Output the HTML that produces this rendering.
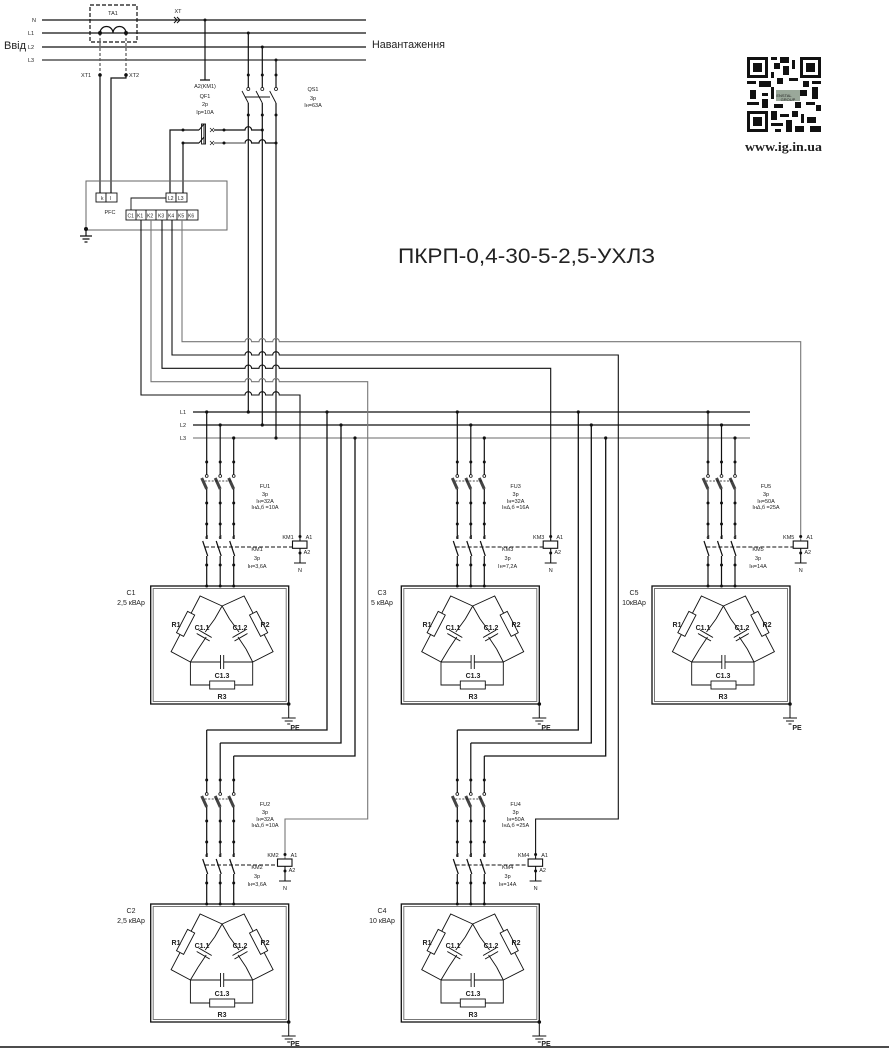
<!DOCTYPE html>
<html><head><meta charset="utf-8"><style>
html,body{margin:0;padding:0;background:#fff;}
svg{display:block;}
text{font-family:"Liberation Sans",sans-serif;fill:#222;}
.s{font-size:5.5px;}
.b{font-size:7px;font-weight:bold;}
</style></head><body>
<svg width="889" height="1049" viewBox="0 0 889 1049" xmlns="http://www.w3.org/2000/svg">
<defs>
<g id="mod" fill="none" stroke="#111" stroke-width="1.2">
  <!-- phases -->
  <path d="M0 412V476M0 489V539M0 556V586"/>
  <path d="M13.5 425V476M13.5 489V539M13.5 556V586"/>
  <path d="M27 438V476M27 489V539M27 556V586"/>
  <path d="M-5 478L0 489M8.5 478L13.5 489M22 478L27 489" stroke-width="3" stroke="#444"/>
  <path d="M-4 541L1 556M9.5 541L14.5 556M23 541L28 556"/>
  <path d="M-2 481H26" stroke-dasharray="2 1.5" stroke-width="0.8"/>
  <g fill="#fff" stroke-width="0.8"><circle cx="0" cy="476" r="1.4"/><circle cx="13.5" cy="476" r="1.4"/><circle cx="27" cy="476" r="1.4"/></g>
  <g fill="#111" stroke="none">
    <circle cx="0" cy="462" r="1.5"/><circle cx="13.5" cy="462" r="1.5"/><circle cx="27" cy="462" r="1.5"/>
    <circle cx="0" cy="503" r="1.5"/><circle cx="13.5" cy="503" r="1.5"/><circle cx="27" cy="503" r="1.5"/>
    <circle cx="0" cy="524" r="1.5"/><circle cx="13.5" cy="524" r="1.5"/><circle cx="27" cy="524" r="1.5"/>
    <circle cx="0" cy="565" r="1.5"/><circle cx="13.5" cy="565" r="1.5"/><circle cx="27" cy="565" r="1.5"/>
    <circle cx="0" cy="586" r="1.5"/><circle cx="13.5" cy="586" r="1.5"/><circle cx="27" cy="586" r="1.5"/>
    <circle cx="82" cy="704" r="1.8"/>
  </g>
  <!-- box -->
  <rect x="-56" y="586" width="138" height="118" stroke-width="1.3"/>
  <rect x="-53.5" y="588.5" width="133" height="113" stroke="#777" stroke-width="1"/>
  <!-- delta -->
  <path d="M15.4 606L-6.6 596L-35.6 651.7L-16.3 662M15.4 606L37.4 596L66.4 651.7L46 662" stroke-width="0.9"/>
  <path d="M15.4 606L8 619M-8.5 649L-16.3 662M15.4 606L22.8 619M39.3 649L46 662" stroke-width="0.9"/>
  <path d="M8 619L-1.5 632M-0.5 637L-8.5 649M22.8 619L32.3 632M31.3 637L39.3 649" stroke-width="0.9"/>
  <path d="M-8 630L5 637.5M-10 633.5L3 641M25.8 637.5L38.8 630M27.8 641L40.8 633.5" stroke-width="1"/>
  <path d="M-16.3 662H13.8M17 662H46M13.8 655V669M17 655V669M-16.3 662V685H46V662" stroke-width="0.9"/>
  <rect x="3" y="681" width="25" height="8" fill="#fff" stroke-width="0.9"/>
  <rect x="-12" y="-4" width="24" height="8" fill="#fff" stroke-width="0.9" transform="translate(-21.1 623.9) rotate(117.5)"/>
  <rect x="-12" y="-4" width="24" height="8" fill="#fff" stroke-width="0.9" transform="translate(51.9 623.9) rotate(62.5)"/>
  <!-- PE -->
  <path d="M82 704V718M75 718H89M78 721H86M80.5 724H83.5" stroke-width="1"/>
</g>
<g id="coil" fill="none" stroke="#111" stroke-width="1.1">
  <rect x="-7.5" y="541" width="14.5" height="7.3" fill="#fff"/>
  <path d="M0 548V563M-6 563H6"/>
  <circle cx="0" cy="536.5" r="1.5" fill="#111" stroke="none"/>
  <circle cx="0" cy="553" r="1.5" fill="#111" stroke="none"/>
</g>
</defs>

<!-- TOP INPUT -->
<g fill="none" stroke="#111" stroke-width="1.2">
  <path d="M42 20H366M42 33H366M42 47H366"/>
  <path d="M42 60H366" stroke="#333"/>
  <rect x="90" y="5" width="47" height="37" stroke-dasharray="4 2"/>
  <path d="M100 33a6.5 6.5 0 0 1 13 0a6.5 6.5 0 0 1 13 0" stroke-width="1.3"/>
  <path d="M100 33V75M126 33V75" stroke-dasharray="3 2" stroke="#555"/>
  <path d="M100 75V193M126 75V78H111V193"/>
  <path d="M174 17l3 3l-3 3M177 17l3 3l-3 3" stroke-width="1"/>
  <path d="M205 20V80M200 80H210"/>
  <!-- QS1 -->
  <path d="M248.3 33V90M262.3 47V90M276 60V90"/>
  <path d="M242 91L248.3 103M256 91L262.3 103M269.7 91L276 103M245 97H270" stroke-width="0.9"/>
  <path d="M248.3 103V412M262.3 103V425M276 103V438"/>
  <path d="M170 193V130H199M183 193V143H199"/>
  <path d="M199 130L204 124M199 143L204 137M204 124V144" stroke-width="1"/>
  <rect x="201.5" y="124" width="4" height="20" stroke-width="0.9"/>
  <path d="M210 128l4 4M214 128l-4 4M210 141l4 4M214 141l-4 4" stroke-width="0.7"/>
  <path d="M214 130H245a3.3 3.3 0 0 1 6.6 0H262.3M214 143H245a3.3 3.3 0 0 1 6.6 0H259a3.3 3.3 0 0 1 6.6 0H276" stroke="#111"/>
  <path d="M214 143H245" stroke="#888"/>
  <!-- PFC -->
  <rect x="86" y="181" width="141" height="49" stroke="#666" stroke-width="1"/>
  <path d="M86 229V236M80 236H92M82.5 239H89.5M84.5 242H87.5"/>
  <rect x="96" y="193" width="10" height="9" fill="#fff" stroke-width="0.9"/>
  <rect x="106" y="193" width="11" height="9" fill="#fff" stroke-width="0.9"/>
  <rect x="166" y="193" width="10" height="9" fill="#fff" stroke-width="0.9"/>
  <rect x="176" y="193" width="11" height="9" fill="#fff" stroke-width="0.9"/>
  <path d="M131 210V198H166" stroke-width="0.9"/>
  <rect x="126" y="210" width="72" height="10" fill="#fff" stroke-width="0.9"/>
  <path d="M136 210V220M146 210V220M156 210V220M167 210V220M177 210V220M187 210V220" stroke-width="0.9"/>
</g>
<g fill="#111">
  <circle cx="100" cy="33" r="2"/><circle cx="126" cy="33" r="2"/>
  <circle cx="100" cy="75" r="1.8"/><circle cx="126" cy="75" r="1.8"/>
  <circle cx="205" cy="20" r="1.5"/>
  <circle cx="248.3" cy="33" r="1.5"/><circle cx="262.3" cy="47" r="1.5"/><circle cx="276" cy="60" r="1.5"/>
  <circle cx="248.3" cy="75" r="1.5"/><circle cx="262.3" cy="75" r="1.5"/><circle cx="276" cy="75" r="1.5"/>
  <circle cx="248.3" cy="115" r="1.5"/><circle cx="262.3" cy="115" r="1.5"/><circle cx="276" cy="115" r="1.5"/>
  <circle cx="183" cy="130" r="1.5"/><circle cx="183" cy="143" r="1.5"/>
  <circle cx="224" cy="130" r="1.5"/><circle cx="224" cy="143" r="1.5"/>
  <circle cx="262.3" cy="130" r="1.5"/><circle cx="276" cy="143" r="1.5"/>
  <circle cx="86" cy="229" r="2"/>
</g>
<g fill="#fff" stroke="#111" stroke-width="0.8">
  <circle cx="248.3" cy="89" r="1.5"/><circle cx="262.3" cy="89" r="1.5"/><circle cx="276" cy="89" r="1.5"/>
</g>
<text x="32" y="22" class="s">N</text>
<text x="28" y="35" class="s">L1</text>
<text x="28" y="49" class="s">L2</text>
<text x="28" y="62" class="s">L3</text>
<text x="4" y="49" font-size="11">Ввід</text>
<text x="113" y="15" class="s" text-anchor="middle">TA1</text>
<text x="178" y="13" class="s" text-anchor="middle">XT</text>
<text x="81" y="77" class="s">XT1</text>
<text x="129" y="77" class="s">XT2</text>
<text x="205" y="88" class="s" text-anchor="middle">A2(KM1)</text>
<text x="205" y="98" class="s" text-anchor="middle">QF1</text>
<text x="205" y="106" class="s" text-anchor="middle">2p</text>
<text x="205" y="114" class="s" text-anchor="middle">Ip=10A</text>
<text x="313" y="91" class="s" text-anchor="middle">QS1</text>
<text x="313" y="100" class="s" text-anchor="middle">3p</text>
<text x="313" y="107" class="s" text-anchor="middle">Iн=63A</text>
<text x="372" y="48" font-size="11" textLength="73" lengthAdjust="spacingAndGlyphs">Навантаження</text>
<text x="101" y="200" font-size="5">k</text><text x="110" y="200" font-size="5">l</text>
<text x="168" y="200" font-size="5">L2</text><text x="178" y="200" font-size="5">L3</text>
<text x="110" y="214" class="s" text-anchor="middle">PFC</text>
<g font-size="5"><text x="127.5" y="217.5">C1</text><text x="137" y="217.5">K1</text><text x="147" y="217.5">K2</text><text x="158" y="217.5">K3</text><text x="168" y="217.5">K4</text><text x="178" y="217.5">K5</text><text x="188" y="217.5">K6</text></g>

<text x="398" y="263" font-size="21" textLength="257" lengthAdjust="spacingAndGlyphs" fill="#222">ПКРП-0,4-30-5-2,5-УХЛЗ</text>

<!-- QR -->
<g fill="#111">
  <rect x="747" y="57" width="21" height="21"/><rect x="750" y="60" width="15" height="15" fill="#fff"/><rect x="753" y="63" width="9" height="9"/>
  <rect x="800" y="57" width="21" height="21"/><rect x="803" y="60" width="15" height="15" fill="#fff"/><rect x="806" y="63" width="9" height="9"/>
  <rect x="747" y="111" width="21" height="21"/><rect x="750" y="114" width="15" height="15" fill="#fff"/><rect x="753" y="117" width="9" height="9"/>
  <rect x="771" y="57" width="6" height="3"/><rect x="780" y="57" width="9" height="6"/><rect x="792" y="60" width="3" height="9"/>
  <rect x="774" y="63" width="6" height="6"/><rect x="783" y="66" width="6" height="9"/><rect x="771" y="72" width="3" height="6"/>
  <rect x="747" y="81" width="9" height="3"/><rect x="759" y="81" width="12" height="6"/><rect x="777" y="78" width="6" height="6"/>
  <rect x="789" y="78" width="9" height="3"/><rect x="803" y="81" width="6" height="6"/><rect x="812" y="81" width="9" height="3"/>
  <rect x="750" y="90" width="6" height="9"/><rect x="762" y="93" width="6" height="3"/><rect x="771" y="87" width="3" height="12"/>
  <rect x="798" y="90" width="9" height="6"/><rect x="812" y="87" width="6" height="12"/>
  <rect x="747" y="102" width="12" height="3"/><rect x="762" y="99" width="6" height="9"/><rect x="774" y="104" width="9" height="4"/>
  <rect x="795" y="102" width="6" height="6"/><rect x="806" y="102" width="9" height="3"/><rect x="816" y="105" width="5" height="6"/>
  <rect x="771" y="111" width="6" height="9"/><rect x="780" y="114" width="9" height="3"/><rect x="792" y="111" width="6" height="6"/>
  <rect x="801" y="114" width="3" height="9"/><rect x="807" y="117" width="9" height="6"/><rect x="771" y="123" width="12" height="3"/>
  <rect x="786" y="120" width="6" height="12"/><rect x="795" y="126" width="9" height="6"/><rect x="810" y="126" width="11" height="6"/>
  <rect x="775" y="129" width="6" height="3"/>
  <rect x="776" y="90" width="24" height="11" fill="#9aa89a"/>
</g>
<text x="784" y="97" font-size="4" fill="#fff" text-anchor="middle">ENSTAL</text>
<text x="788" y="101" font-size="4" fill="#fff" text-anchor="middle">GROUP</text>
<text x="745" y="151" font-family="Liberation Serif,serif" font-weight="bold" font-size="13" textLength="77" lengthAdjust="spacingAndGlyphs" style="font-family:'Liberation Serif',serif">www.ig.in.ua</text>

<!-- BUS -->
<g fill="none" stroke="#111" stroke-width="1.3">
  <path d="M193 412H750M193 425H750"/>
  <path d="M193 438H750" stroke="#888"/>
  <path d="M327 412V730H206.7M341 425V743H220.2M355 438V756H233.7"/>
  <path d="M578.3 412V730H457.3M591.3 425V743H470.8M605.7 438V756H484.3"/>
</g>
<text x="180" y="414" class="s">L1</text><text x="180" y="427" class="s">L2</text><text x="180" y="440" class="s">L3</text>
<g fill="#111">
  <circle cx="248.3" cy="412" r="1.6"/><circle cx="262.3" cy="425" r="1.6"/><circle cx="276" cy="438" r="1.6"/>
  <circle cx="206.7" cy="412" r="1.6"/><circle cx="220.2" cy="425" r="1.6"/><circle cx="233.7" cy="438" r="1.6"/>
  <circle cx="457.3" cy="412" r="1.6"/><circle cx="470.8" cy="425" r="1.6"/><circle cx="484.3" cy="438" r="1.6"/>
  <circle cx="708" cy="412" r="1.6"/><circle cx="721.5" cy="425" r="1.6"/><circle cx="735" cy="438" r="1.6"/>
  <circle cx="327" cy="412" r="1.6"/><circle cx="341" cy="425" r="1.6"/><circle cx="355" cy="438" r="1.6"/>
  <circle cx="578.3" cy="412" r="1.6"/><circle cx="591.3" cy="425" r="1.6"/><circle cx="605.7" cy="438" r="1.6"/>
</g>

<!-- CONTROL LINES -->
<g fill="none" stroke="#111" stroke-width="1.1">
  <path d="M141 220V395H245a3.3 3.3 0 0 1 6.6 0H259a3.3 3.3 0 0 1 6.6 0H272.7a3.3 3.3 0 0 1 6.6 0H300V541"/>
  <path d="M151 220V381.7H245a3.3 3.3 0 0 1 6.6 0H259a3.3 3.3 0 0 1 6.6 0H272.7a3.3 3.3 0 0 1 6.6 0H367.7V819H285V859" stroke="#777"/>
  <path d="M162 220V368.3H245a3.3 3.3 0 0 1 6.6 0H259a3.3 3.3 0 0 1 6.6 0H272.7a3.3 3.3 0 0 1 6.6 0H550.7V541"/>
  <path d="M172 220V355H245a3.3 3.3 0 0 1 6.6 0H259a3.3 3.3 0 0 1 6.6 0H272.7a3.3 3.3 0 0 1 6.6 0H618.3V819H535.6V859"/>
  <path d="M182 220V341.7H245a3.3 3.3 0 0 1 6.6 0H259a3.3 3.3 0 0 1 6.6 0H272.7a3.3 3.3 0 0 1 6.6 0H800.7V541" stroke="#777"/>
</g>

<!-- MODULES -->
<use href="#mod" transform="translate(206.7 0)"/>
<use href="#mod" transform="translate(457.3 0)"/>
<use href="#mod" transform="translate(708 0)"/>
<use href="#mod" transform="translate(206.7 318)"/>
<use href="#mod" transform="translate(457.3 318)"/>
<use href="#coil" transform="translate(300 0)"/>
<use href="#coil" transform="translate(550.7 0)"/>
<use href="#coil" transform="translate(800.7 0)"/>
<use href="#coil" transform="translate(285 318)"/>
<use href="#coil" transform="translate(535.6 318)"/>
<g fill="none" stroke="#111" stroke-width="1" stroke-dasharray="4 2">
  <path d="M205 547H292.5M455.6 547H543.2M706.3 547H793.2M205 865H277.5M455.6 865H528.1"/>
</g>

<!-- module texts -->
<g class="s" text-anchor="middle" font-size="5.5">
  <!-- C1 -->
  <text x="265" y="488">FU1</text><text x="265" y="496">3p</text><text x="265" y="503">Iн=32A</text><text x="265" y="509">Iн∆,б =10A</text>
  <text x="257" y="551">KM1</text><text x="257" y="560">3p</text><text x="257" y="568">Iн=3,6A</text>
  <text x="206.7" y="539">d</text><text x="220.2" y="539">d</text><text x="233.7" y="539">d</text>
  <text x="288" y="539">KM1</text><text x="309" y="539">A1</text><text x="307" y="554">A2</text><text x="300" y="572">N</text>
  <!-- C3 -->
  <text x="515.6" y="488">FU3</text><text x="515.6" y="496">3p</text><text x="515.6" y="503">Iн=32A</text><text x="515.6" y="509">Iн∆,б =16A</text>
  <text x="507.6" y="551">KM3</text><text x="507.6" y="560">3p</text><text x="507.6" y="568">Iн=7,2A</text>
  <text x="457.3" y="539">d</text><text x="470.8" y="539">d</text><text x="484.3" y="539">d</text>
  <text x="538.7" y="539">KM3</text><text x="559.7" y="539">A1</text><text x="557.7" y="554">A2</text><text x="550.7" y="572">N</text>
  <!-- C5 -->
  <text x="766" y="488">FU5</text><text x="766" y="496">3p</text><text x="766" y="503">Iн=50A</text><text x="766" y="509">Iн∆,б =25A</text>
  <text x="758" y="551">KM5</text><text x="758" y="560">3p</text><text x="758" y="568">Iн=14A</text>
  <text x="708" y="539">d</text><text x="721.5" y="539">d</text><text x="735" y="539">d</text>
  <text x="788.7" y="539">KM5</text><text x="809.7" y="539">A1</text><text x="807.7" y="554">A2</text><text x="800.7" y="572">N</text>
  <!-- C2 -->
  <text x="265" y="806">FU2</text><text x="265" y="814">3p</text><text x="265" y="821">Iн=32A</text><text x="265" y="827">Iн∆,б =10A</text>
  <text x="257" y="869">KM2</text><text x="257" y="878">3p</text><text x="257" y="886">Iн=3,6A</text>
  <text x="206.7" y="857">d</text><text x="220.2" y="857">d</text><text x="233.7" y="857">d</text>
  <text x="273" y="857">KM2</text><text x="294" y="857">A1</text><text x="292" y="872">A2</text><text x="285" y="890">N</text>
  <!-- C4 -->
  <text x="515.6" y="806">FU4</text><text x="515.6" y="814">3p</text><text x="515.6" y="821">Iн=50A</text><text x="515.6" y="827">Iн∆,б =25A</text>
  <text x="507.6" y="869">KM4</text><text x="507.6" y="878">3p</text><text x="507.6" y="886">Iн=14A</text>
  <text x="457.3" y="857">d</text><text x="470.8" y="857">d</text><text x="484.3" y="857">d</text>
  <text x="523.6" y="857">KM4</text><text x="544.6" y="857">A1</text><text x="542.6" y="872">A2</text><text x="535.6" y="890">N</text>
</g>
<g font-size="7" text-anchor="middle">
  <text x="131" y="595">C1</text><text x="131" y="605">2,5  кВАр</text>
  <text x="382" y="595">C3</text><text x="382" y="605">5 кВАр</text>
  <text x="634" y="595">C5</text><text x="634" y="605">10кВАр</text>
  <text x="131" y="913">C2</text><text x="131" y="923">2,5  кВАр</text>
  <text x="382" y="913">C4</text><text x="382" y="923">10  кВАр</text>
</g>
<g class="b" text-anchor="middle">
  <text x="176" y="627">R1</text><text x="265" y="627">R2</text><text x="202" y="630">C1.1</text><text x="240" y="630">C1.2</text><text x="222" y="678">C1.3</text><text x="222" y="699">R3</text><text x="295" y="730">PE</text>
  <text x="427" y="627">R1</text><text x="516" y="627">R2</text><text x="453" y="630">C1.1</text><text x="491" y="630">C1.2</text><text x="473" y="678">C1.3</text><text x="473" y="699">R3</text><text x="546" y="730">PE</text>
  <text x="677" y="627">R1</text><text x="767" y="627">R2</text><text x="703" y="630">C1.1</text><text x="742" y="630">C1.2</text><text x="723" y="678">C1.3</text><text x="723" y="699">R3</text><text x="797" y="730">PE</text>
  <text x="176" y="945">R1</text><text x="265" y="945">R2</text><text x="202" y="948">C1.1</text><text x="240" y="948">C1.2</text><text x="222" y="996">C1.3</text><text x="222" y="1017">R3</text><text x="295" y="1046">PE</text>
  <text x="427" y="945">R1</text><text x="516" y="945">R2</text><text x="453" y="948">C1.1</text><text x="491" y="948">C1.2</text><text x="473" y="996">C1.3</text><text x="473" y="1017">R3</text><text x="546" y="1046">PE</text>
</g>
<path d="M0 1047H889" stroke="#111" stroke-width="1.5"/>
</svg>
</body></html>
